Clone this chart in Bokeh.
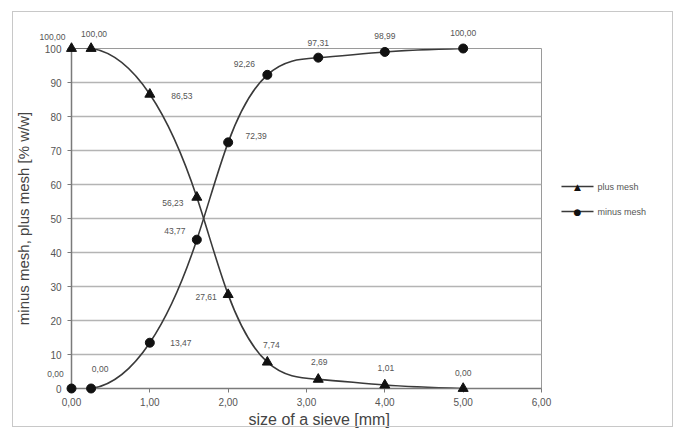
import numpy as np
from bokeh.plotting import figure
from bokeh.models import (FixedTicker, ColumnDataSource, Range1d, Title,
                          InlineStyleSheet)
from bokeh.embed import file_html
from bokeh.resources import INLINE
from bokeh.core.properties import value

# ---------------- data ----------------
sieve_mm = [0.0, 0.25, 1.0, 1.6, 2.0, 2.5, 3.15, 4.0, 5.0]
plus_mesh = [100.00, 100.00, 86.53, 56.23, 27.61, 7.74, 2.69, 1.01, 0.00]
minus_mesh = [0.00, 0.00, 13.47, 43.77, 72.39, 92.26, 97.31, 98.99, 100.00]
x_ticks = [0, 1, 2, 3, 4, 5, 6]
y_ticks = [0, 10, 20, 30, 40, 50, 60, 70, 80, 90, 100]
series_names = ["plus mesh", "minus mesh"]

# data-label offsets in screen pixels (layout, not data)
plus_dx = [-19, 3, 32, -24, -22, 4, 1, 1, 0]
plus_dy = [-12, -15, 2, 6, 2, -17, -17, -17, -16]
minus_dx = [-16, 9, 31, -22, 28, -23, 0, 0, 0]
minus_dy = [-15, -20, 0, -9, -6, -11, -15, -16, -16]

# legend placement (layout, in axis units just right of the plot area)
LEG_X0, LEG_X1, LEG_XM, LEG_XT = 6.255, 6.664, 6.46, 6.715
LEG_Y = [59.4, 52.05]
LEG_SYMBOL = {"triangle": "\u25B2", "circle": "\u25CF"}

FONT = "Liberation Sans"
LINE_C = "#3a3a3a"
TEXT_C = "#555555"


def fmt(v):
    return f"{v:.2f}".replace(".", ",")


def spline_beziers(xs, ys):
    """Natural cubic spline through the points, returned as cubic Bezier segments."""
    x = np.asarray(xs, float)
    y = np.asarray(ys, float)
    n = len(x)
    h = np.diff(x)
    A = np.zeros((n, n))
    b = np.zeros(n)
    A[0, 0] = 1.0
    A[-1, -1] = 1.0
    for i in range(1, n - 1):
        A[i, i - 1] = h[i - 1]
        A[i, i] = 2 * (h[i - 1] + h[i])
        A[i, i + 1] = h[i]
        b[i] = 6 * ((y[i + 1] - y[i]) / h[i] - (y[i] - y[i - 1]) / h[i - 1])
    M = np.linalg.solve(A, b)
    d = np.zeros(n)
    for i in range(n - 1):
        d[i] = (y[i + 1] - y[i]) / h[i] - h[i] * (2 * M[i] + M[i + 1]) / 6
    d[-1] = (y[-1] - y[-2]) / h[-1] + h[-1] * (M[-2] + 2 * M[-1]) / 6
    return dict(
        x0=x[:-1], y0=y[:-1], x1=x[1:], y1=y[1:],
        cx0=x[:-1] + h / 3, cy0=y[:-1] + d[:-1] * h / 3,
        cx1=x[1:] - h / 3, cy1=y[1:] - d[1:] * h / 3,
    )


border_css = InlineStyleSheet(css="""
:host { position: relative; }
:host::after {
  content: ""; position: absolute; left: 12px; top: 11px;
  width: 661px; height: 416px; border: 1.5px solid #c8c8c8;
  pointer-events: none; box-sizing: border-box;
}
""")

p = figure(width=674, height=432, x_range=Range1d(0, 6), y_range=Range1d(0, 100),
           output_backend="svg", toolbar_location=None,
           min_border_left=71, min_border_right=133, min_border_top=48,
           min_border_bottom=44, stylesheets=[border_css])
p.background_fill_color = "white"
p.border_fill_color = "white"
p.outline_line_color = "#9a9a9a"
p.outline_line_width = 1

# axes
p.xaxis.ticker = FixedTicker(ticks=x_ticks)
p.xaxis.major_label_overrides = {t: fmt(t) for t in x_ticks}
p.yaxis.ticker = FixedTicker(ticks=y_ticks)
for ax in (p.xaxis, p.yaxis):
    ax.axis_line_color = "#7a7a7a"
    ax.axis_line_width = 1.5
    ax.major_tick_line_color = "#7a7a7a"
    ax.major_tick_out = 4
    ax.major_tick_in = 0
    ax.minor_tick_line_color = None
    ax.major_label_text_font = FONT
    ax.major_label_text_font_size = "10px"
    ax.major_label_text_color = "#555555"
    ax.axis_label_text_font = FONT
    ax.axis_label_text_font_style = "normal"
    ax.axis_label_text_color = "#444444"
p.xaxis.major_label_standoff = 5
p.yaxis.major_label_standoff = 6
p.yaxis.axis_label = "minus mesh, plus mesh [% w/w]"
p.yaxis.axis_label_text_font_size = "15px"
p.yaxis.axis_label_standoff = 10

p.add_layout(Title(text="size of a sieve [mm]", align="left", offset=177,
                   text_font=FONT, text_font_size="16px", text_font_style="normal",
                   text_color="#444444", standoff=0), "below")

p.xgrid.visible = False
p.ygrid.grid_line_color = "#b4b4b4"
p.ygrid.grid_line_width = 1.5

for k, (name, vals, marker, dx, dy) in enumerate([
        (series_names[0], plus_mesh, "triangle", plus_dx, plus_dy),
        (series_names[1], minus_mesh, "circle", minus_dx, minus_dy)]):
    msize = 9 if marker == "circle" else 10
    bz = ColumnDataSource(spline_beziers(sieve_mm, vals))
    p.bezier(x0="x0", y0="y0", x1="x1", y1="y1", cx0="cx0", cy0="cy0",
             cx1="cx1", cy1="cy1", source=bz, line_color=LINE_C, line_width=1.6)
    src = ColumnDataSource(dict(x=sieve_mm, y=vals, lab=[fmt(v) for v in vals],
                                dx=dx, dy=dy))
    p.scatter("x", "y", source=src, marker=marker, size=msize,
              fill_color="#111111", line_color="#111111", level="overlay")
    p.text("x", "y", text="lab", source=src, x_offset="dx", y_offset="dy",
           text_font=value(FONT), text_font_size="8.5px", text_color=TEXT_C,
           text_align="center", text_baseline="middle", level="overlay")

    # legend entry (drawn outside the plot area, to the right)
    ly = LEG_Y[k]
    p.line([LEG_X0, LEG_X1], [ly, ly], line_color=LINE_C, line_width=1.6,
           level="overlay")
    p.text([LEG_XM], [ly], text=[LEG_SYMBOL[marker]], text_font=value("DejaVu Sans"),
           text_font_size="9px", text_color="#111111", text_align="center",
           text_baseline="middle", level="overlay")
    p.text([LEG_XT], [ly], text=[name], text_font=value(FONT),
           text_font_size="9px", text_color=TEXT_C, text_align="left",
           text_baseline="middle", level="overlay")

open("out.html", "w").write(file_html(p, INLINE))
